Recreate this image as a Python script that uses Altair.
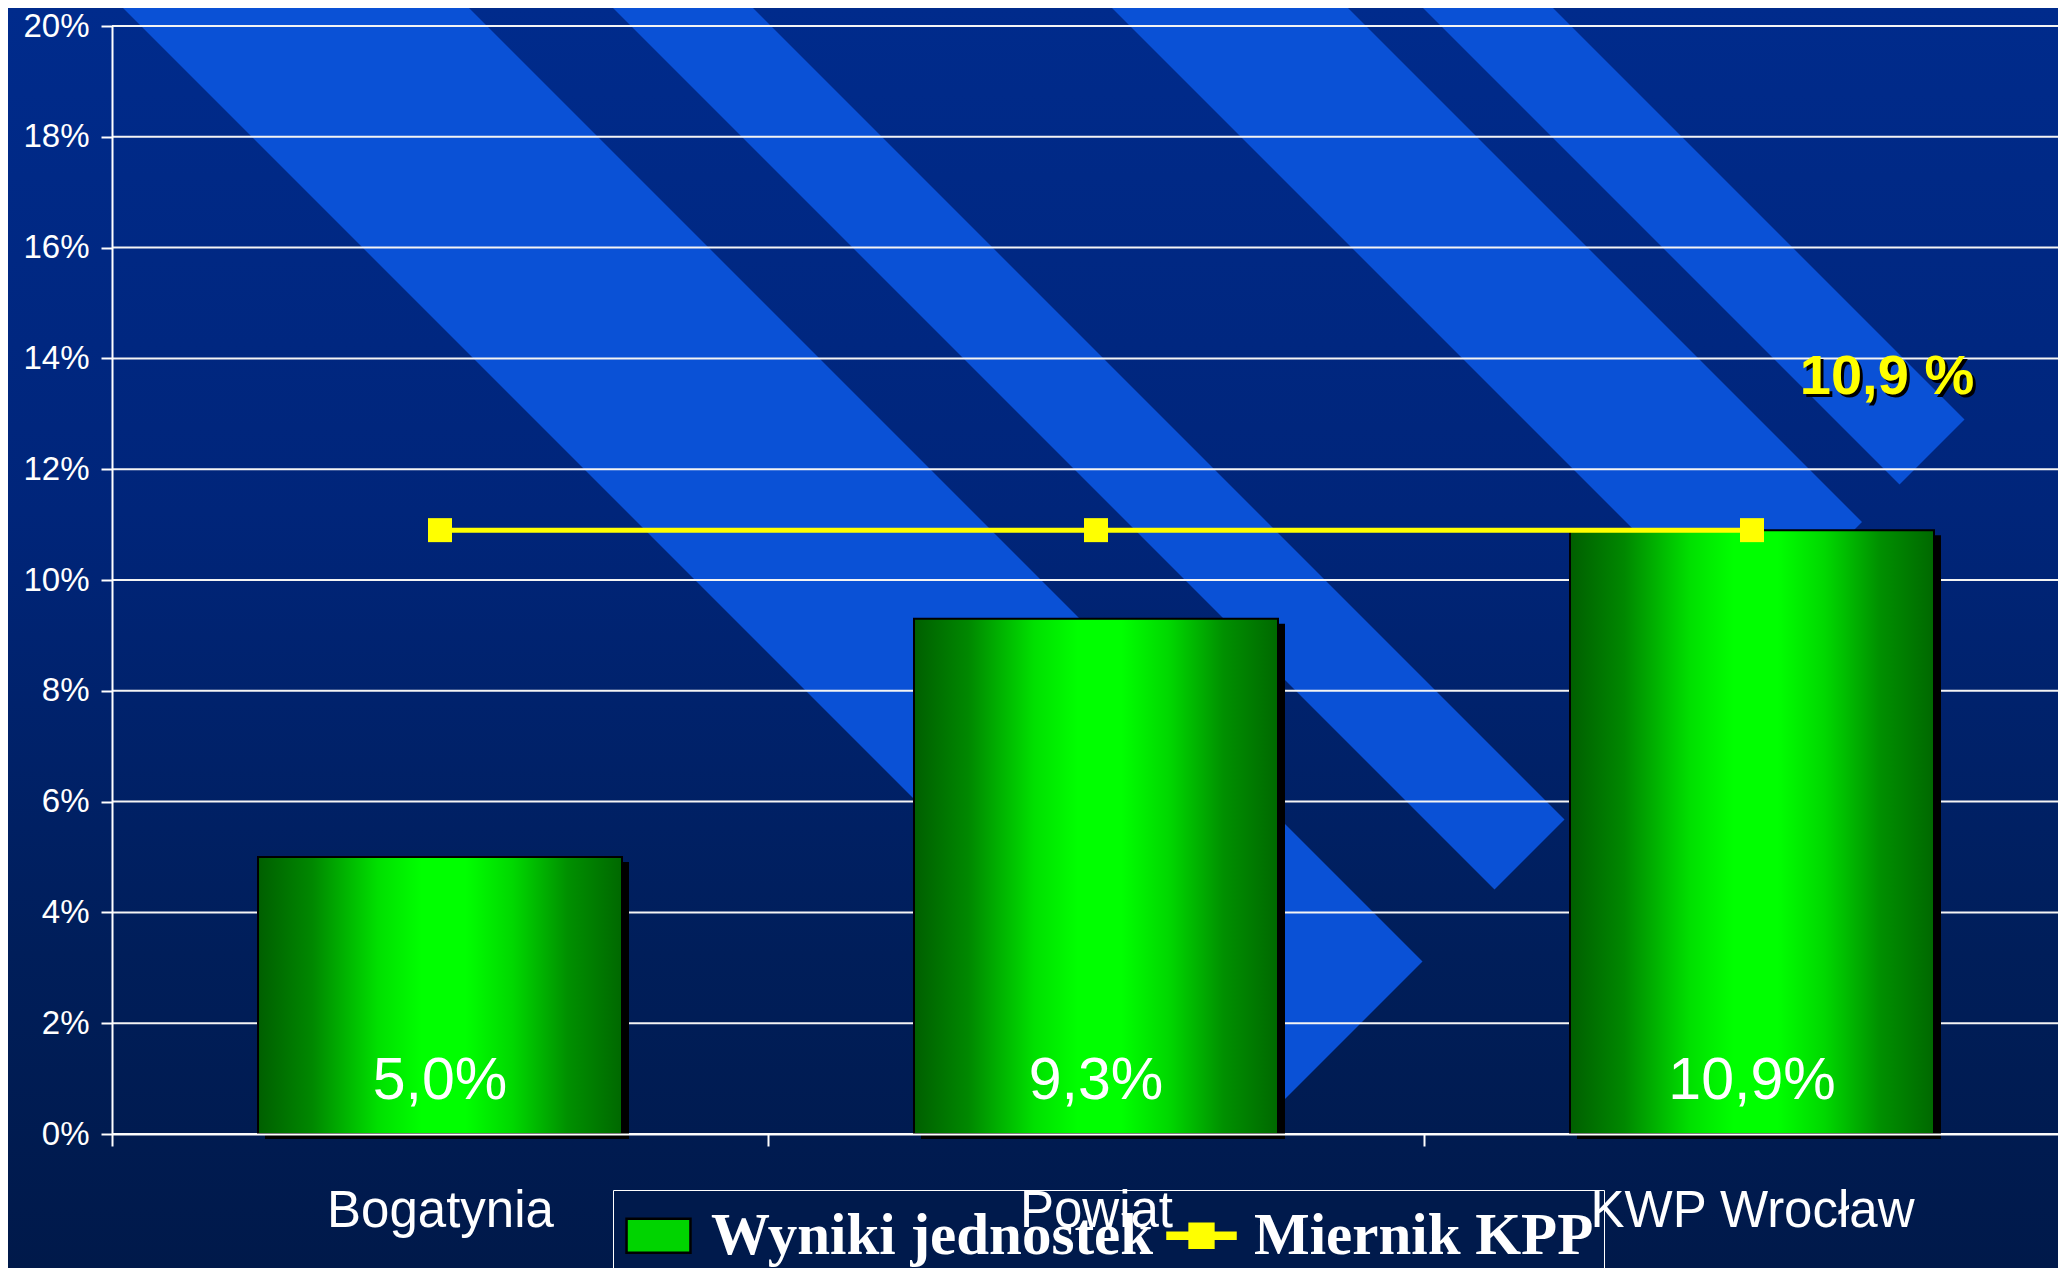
import math
import altair as alt
import pandas as pd

# ---------------- data ----------------
categories = ["Bogatynia", "Powiat", "KWP Wrocław"]
wyniki = [5.0, 9.3, 10.9]          # Wyniki jednostek (%)
miernik = [10.9, 10.9, 10.9]       # Miernik KPP (%)
y_ticks = [0, 2, 4, 6, 8, 10, 12, 14, 16, 18, 20]
series_names = ["Wyniki jednostek", "Miernik KPP"]
kpp_value = 10.9


def pl(v):
    return f"{v:.1f}".replace(".", ",")


df = pd.DataFrame({
    "kategoria": categories,
    "wynik": wyniki,
    "miernik": miernik,
    "etykieta": [pl(v) + "%" for v in wyniki],
})
ticks_df = pd.DataFrame({"tick": y_ticks})
ann_df = pd.DataFrame({"kategoria": [categories[-1]], "wartosc": [kpp_value],
                       "tekst": [pl(kpp_value) + " %"]})
legend_df = pd.DataFrame({"seria": series_names})

# ---------------- layout ----------------
W, H = 1946, 1108
PAD = {"left": 104, "top": 18, "right": 0, "bottom": 134}
OX, OY = 112, 26          # plot origin on the page
BAND_RANGE = [0, 1968]
FONT = "Liberation Sans"

x_enc = alt.X("kategoria:N", sort=categories,
              scale=alt.Scale(domain=categories, range=BAND_RANGE,
                              paddingInner=0, paddingOuter=0),
              axis=alt.Axis(title=None, labelAngle=0, labelFont=FONT,
                            labelFontSize=51, labelColor="white",
                            labelPadding=40, labelLimit=1000,
                            tickSize=12, tickColor="white", tickWidth=2,
                            tickBand="extent", domainColor="white",
                            domainWidth=2, zindex=2))
x_plain = alt.X("kategoria:N", sort=categories)

y_scale = alt.Scale(domain=[0, 20], nice=False)
y_axis = alt.Axis(title=None, values=y_ticks, labelExpr="datum.value + '%'",
                  labelFont=FONT, labelFontSize=33, labelColor="white",
                  labelPadding=12, tickSize=11, tickColor="white",
                  tickWidth=2, domainColor="white", domainWidth=2,
                  grid=False, zindex=2)

# ---------------- decoration: background + diagonal stripes ----------------
bg = alt.Chart(alt.Data(values=[{}])).mark_rect(
    color=alt.LinearGradient(
        gradient="linear", x1=0, y1=0, x2=0, y2=1,
        stops=[alt.GradientStop(color="#002b8c", offset=0),
               alt.GradientStop(color="#00257a", offset=0.4),
               alt.GradientStop(color="#001e5a", offset=0.75),
               alt.GradientStop(color="#00194a", offset=1)])
).encode(x=alt.value(-PAD["left"]), x2=alt.value(W),
         y=alt.value(-PAD["top"]), y2=alt.value(H + PAD["bottom"]))

# (top-edge centre x, horizontal width) of each decorative 45° band
stripe_specs = [(288, 346), (675, 140), (1222, 236), (1480, 130)]
END = 2384
stripe_layers = []
for c, w in stripe_specs:
    xs, ys = c - 150, -150
    ye = (END - c) / 2
    xe = (END + c) / 2
    stripe_layers.append(
        alt.Chart(alt.Data(values=[{}])).mark_rule(
            color="#0a51d6", strokeWidth=w / math.sqrt(2), strokeCap="butt"
        ).encode(x=alt.value(xs - OX), y=alt.value(ys - OY),
                 x2=alt.value(xe - OX), y2=alt.value(ye - OY))
    )

# ---------------- chart layers ----------------
grid = alt.Chart(ticks_df).mark_rule(color="#f4f4f4", strokeWidth=2).encode(
    y=alt.Y("tick:Q", scale=y_scale, axis=y_axis)
)

shadow = alt.Chart(df).mark_bar(color="black", size=364, xOffset=7,
                                yOffset=5).encode(
    x=x_enc, y=alt.Y("wynik:Q", scale=y_scale)
)

bars = alt.Chart(df).mark_bar(
    size=364, stroke="black", strokeWidth=2,
    color=alt.LinearGradient(
        gradient="linear", x1=0, y1=0, x2=1, y2=0,
        stops=[alt.GradientStop(color="#005f00", offset=0),
               alt.GradientStop(color="#008800", offset=0.15),
               alt.GradientStop(color="#00e000", offset=0.33),
               alt.GradientStop(color="#00ff00", offset=0.45),
               alt.GradientStop(color="#00ff00", offset=0.57),
               alt.GradientStop(color="#00d800", offset=0.7),
               alt.GradientStop(color="#009000", offset=0.85),
               alt.GradientStop(color="#006800", offset=1)])
).encode(x=x_plain, y=alt.Y("wynik:Q", scale=y_scale))

line = alt.Chart(df).mark_line(color="#ffff00", strokeWidth=5).encode(
    x=x_plain, y=alt.Y("miernik:Q", scale=y_scale)
)
squares = alt.Chart(df).mark_square(size=576, color="#ffff00",
                                    opacity=1).encode(
    x=x_plain, y=alt.Y("miernik:Q", scale=y_scale)
)

bar_labels = alt.Chart(df).mark_text(
    font=FONT, fontSize=59, color="white", baseline="middle", dy=-53
).encode(x=x_plain, y=alt.datum(0), text="etykieta:N")

ann_shadow = alt.Chart(ann_df).mark_text(
    font=FONT, fontSize=56, fontWeight="bold", color="black",
    baseline="middle", dx=138, dy=-150
).encode(x=x_plain, y=alt.Y("wartosc:Q", scale=y_scale), text="tekst:N")
ann = alt.Chart(ann_df).mark_text(
    font=FONT, fontSize=56, fontWeight="bold", color="#ffff00",
    baseline="middle", dx=135, dy=-153
).encode(x=x_plain, y=alt.Y("wartosc:Q", scale=y_scale), text="tekst:N")

legend_def = alt.Legend(
    title=None, orient="none", legendX=501, legendY=1164,
    direction="horizontal", fillColor="#001a4c", strokeColor="#ffffff",
    padding=10, labelFont="Liberation Serif", labelFontSize=59,
    labelFontWeight="bold", labelColor="white", labelLimit=1000,
    labelOffset=17, columnPadding=8, symbolSize=4624,
    symbolStrokeWidth=2.5, symbolOpacity=1, zindex=1)

rect_path = "M-0.94,-0.5H0.94V0.5H-0.94Z"
cross_path = ("M-1,-0.09H-0.35V-0.35H0.35V-0.09H1V0.09H0.35V0.35"
              "H-0.35V0.09H-1Z")

legend_layer = alt.Chart(legend_df).mark_point(filled=True, opacity=0).encode(
    color=alt.Color("seria:N", scale=alt.Scale(domain=series_names,
                                               range=["#00d400", "#ffff00"]),
                    legend=legend_def),
    shape=alt.Shape("seria:N", scale=alt.Scale(domain=series_names,
                                               range=[rect_path, cross_path]),
                    legend=legend_def),
    stroke=alt.Stroke("seria:N", scale=alt.Scale(domain=series_names,
                                                 range=["#000000", "#ffff00"]),
                      legend=legend_def),
)

chart = alt.layer(
    bg, *stripe_layers, grid, shadow, bars, line, squares, bar_labels,
    ann_shadow, ann, legend_layer
).properties(
    width=W, height=H, padding=PAD,
    autosize=alt.AutoSizeParams(type="none"),
    background="#00194a",
).configure_view(stroke=None)

chart.save("out.html", embed_options={"renderer": "svg", "actions": False})
